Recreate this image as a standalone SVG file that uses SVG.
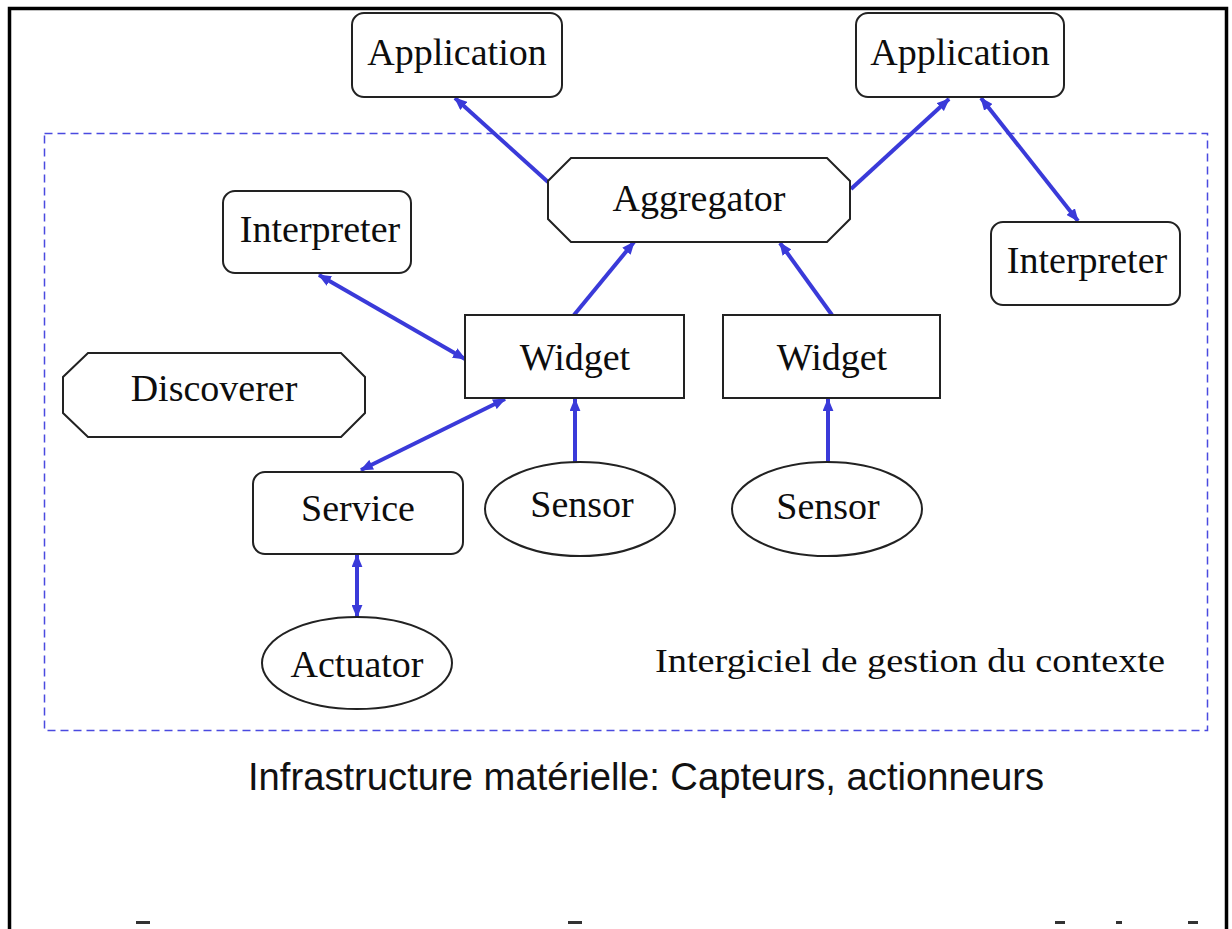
<svg xmlns="http://www.w3.org/2000/svg" width="1232" height="929" viewBox="0 0 1232 929">
  <style>
    .box { fill: #ffffff; stroke: #222222; stroke-width: 2; }
    .lbl { font-family: "Liberation Serif", "Times New Roman", serif; font-size: 38px; fill: #0d0d0d; text-anchor: middle; }
    .link { fill: none; stroke: #3a3ad9; stroke-width: 4; }
    .frame { fill: none; stroke: #000000; stroke-width: 3.5; }
    .zone { fill: none; stroke: #4a4ae0; stroke-width: 1.5; stroke-dasharray: 8 5; }
  </style>
  <defs>
    <marker id="head" viewBox="0 0 12 10" refX="11" refY="5" markerWidth="13" markerHeight="11" markerUnits="userSpaceOnUse" orient="auto-start-reverse">
      <path d="M0,0 L12,5 L0,10 Z" fill="#3a3ad9"/>
    </marker>
  </defs>

  <rect width="1232" height="929" fill="#ffffff"/>

  <!-- outer frame, open at the bottom -->
  <path class="frame" d="M9.5,929 V8.5 H1226.5 V929"/>

  <!-- middleware zone -->
  <rect class="zone" x="44.5" y="133.5" width="1163" height="597"/>
  <text x="910" y="672" font-family="'Liberation Serif', 'Times New Roman', serif" font-size="34" fill="#0d0d0d" text-anchor="middle" textLength="510" lengthAdjust="spacingAndGlyphs">Intergiciel de gestion du contexte</text>

  <!-- hardware caption -->
  <text x="646" y="790" font-family="'Liberation Sans', Arial, sans-serif" font-size="38" fill="#111111" text-anchor="middle" textLength="796" lengthAdjust="spacingAndGlyphs">Infrastructure matérielle: Capteurs, actionneurs</text>

  <!-- clipped marks along the bottom edge -->
  <g fill="#333333">
    <rect x="136" y="921" width="14" height="3"/>
    <rect x="568" y="921" width="14" height="3"/>
    <rect x="1055" y="921" width="10" height="3"/>
    <rect x="1116" y="921" width="6" height="3"/>
    <rect x="1188" y="921" width="10" height="3"/>
  </g>

  <!-- connectors -->
  <g id="connectors">
    <line class="link" x1="548" y1="182" x2="455" y2="98" marker-end="url(#head)"/>
    <line class="link" x1="851" y1="189" x2="949" y2="99" marker-end="url(#head)"/>
    <line class="link" x1="981" y1="98" x2="1078" y2="221" marker-start="url(#head)" marker-end="url(#head)"/>
    <line class="link" x1="574" y1="315" x2="634" y2="242" marker-end="url(#head)"/>
    <line class="link" x1="832" y1="315" x2="780" y2="243" marker-end="url(#head)"/>
    <line class="link" x1="319" y1="275" x2="465" y2="359" marker-start="url(#head)" marker-end="url(#head)"/>
    <line class="link" x1="505" y1="399" x2="361" y2="470" marker-start="url(#head)" marker-end="url(#head)"/>
    <line class="link" x1="575" y1="462" x2="575" y2="399" marker-end="url(#head)"/>
    <line class="link" x1="828" y1="462" x2="828" y2="399" marker-end="url(#head)"/>
    <line class="link" x1="357" y1="555" x2="357" y2="617" marker-start="url(#head)" marker-end="url(#head)"/>
  </g>

  <!-- nodes -->
  <g id="app-left">
    <rect class="box" x="352" y="13" width="210" height="84" rx="12"/>
    <text class="lbl" x="457" y="65">Application</text>
  </g>
  <g id="app-right">
    <rect class="box" x="856" y="13" width="208" height="84" rx="12"/>
    <text class="lbl" x="960" y="65">Application</text>
  </g>
  <g id="aggregator">
    <polygon class="box" points="571,158 827,158 850,181 850,219 827,242 571,242 548,219 548,181"/>
    <text class="lbl" x="699" y="211">Aggregator</text>
  </g>
  <g id="interpreter-left">
    <rect class="box" x="223" y="191" width="188" height="82" rx="12"/>
    <text class="lbl" x="320" y="242">Interpreter</text>
  </g>
  <g id="interpreter-right">
    <rect class="box" x="991" y="222" width="189" height="83" rx="12"/>
    <text class="lbl" x="1087" y="273">Interpreter</text>
  </g>
  <g id="widget-left">
    <rect class="box" x="465" y="315" width="219" height="83"/>
    <text class="lbl" x="575" y="370">Widget</text>
  </g>
  <g id="widget-right">
    <rect class="box" x="723" y="315" width="217" height="83"/>
    <text class="lbl" x="832" y="370">Widget</text>
  </g>
  <g id="discoverer">
    <polygon class="box" points="88,353 341,353 365,377 365,413 341,437 88,437 63,413 63,377"/>
    <text class="lbl" x="214" y="401">Discoverer</text>
  </g>
  <g id="service">
    <rect class="box" x="253" y="472" width="210" height="82" rx="12"/>
    <text class="lbl" x="358" y="521">Service</text>
  </g>
  <g id="sensor-left">
    <ellipse class="box" cx="580" cy="509" rx="95" ry="47"/>
    <text class="lbl" x="582" y="517">Sensor</text>
  </g>
  <g id="sensor-right">
    <ellipse class="box" cx="827" cy="509" rx="95" ry="47"/>
    <text class="lbl" x="828" y="519">Sensor</text>
  </g>
  <g id="actuator">
    <ellipse class="box" cx="357" cy="663" rx="95" ry="46"/>
    <text class="lbl" x="357" y="677">Actuator</text>
  </g>
</svg>
